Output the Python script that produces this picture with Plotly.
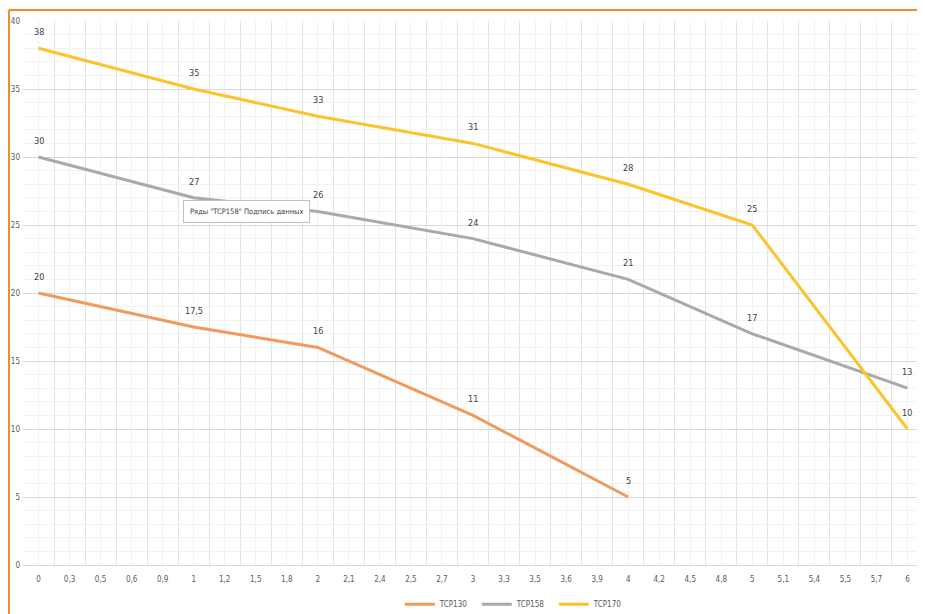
import plotly.graph_objects as go

x_labels = ["0", "0,3", "0,5", "0,6", "0,9", "1", "1,2", "1,5", "1,8", "2",
            "2,1", "2,4", "2,5", "2,7", "3", "3,3", "3,5", "3,6", "3,9", "4",
            "4,2", "4,5", "4,8", "5", "5,1", "5,4", "5,5", "5,7", "6"]

tcp130_x = ["0", "1", "2", "3", "4"]
tcp130_y = [20, 17.5, 16, 11, 5]
tcp130_text = ["20", "17,5", "16", "11", "5"]

tcp158_x = ["0", "1", "2", "3", "4", "5", "6"]
tcp158_y = [30, 27, 26, 24, 21, 17, 13]

tcp170_x = ["0", "1", "2", "3", "4", "5", "6"]
tcp170_y = [38, 35, 33, 31, 28, 25, 10]

series = [
    ("TCP130", tcp130_x, tcp130_y, tcp130_text, "#F09A5E"),
    ("TCP158", tcp158_x, tcp158_y, [str(v) for v in tcp158_y], "#A9A9A9"),
    ("TCP170", tcp170_x, tcp170_y, [str(v) for v in tcp170_y], "#FBC42C"),
]

FONT = "Liberation Sans Narrow, DejaVu Sans Condensed, Liberation Sans, sans-serif"

fig = go.Figure()
annotations = []
for name, xs, ys, texts, color in series:
    xi = [x_labels.index(s) for s in xs]
    fig.add_trace(go.Scatter(
        x=xi, y=ys, mode="lines", name=name,
        line=dict(color=color, width=3),
        hoverinfo="skip",
    ))
    for xv, yv, t in zip(xi, ys, texts):
        annotations.append(dict(
            x=xv, y=yv, text=t, showarrow=False, yshift=16,
            font=dict(family=FONT, size=9, color="#404040"),
        ))

annotations.append(dict(
    xref="paper", yref="paper", x=0.178, y=0.649, xanchor="left", yanchor="middle",
    text="Ряды \"TCP158\" Подпись данных", showarrow=False,
    font=dict(family=FONT, size=7.5, color="#404040"),
    bgcolor="white", bordercolor="#BFBFBF", borderwidth=1, borderpad=6,
))

# figure is placed 8px in from the page edges, so size/margins compensate
fig.update_layout(
    width=917, height=606,
    margin=dict(l=15, r=2, t=13, b=49, autoexpand=False),
    paper_bgcolor="white", plot_bgcolor="white",
    font=dict(family=FONT, size=9, color="#595959"),
    showlegend=True,
    legend=dict(orientation="h", x=0.547, y=-0.072, xanchor="center", yanchor="middle",
                font=dict(family=FONT, size=8, color="#595959"),
                itemwidth=30, entrywidth=32, entrywidthmode="pixels",
                tracegroupgap=0, bgcolor="rgba(0,0,0,0)"),
    annotations=annotations,
    xaxis=dict(
        range=[-0.5, 28.5], tickmode="array",
        tickvals=list(range(len(x_labels))), ticktext=x_labels,
        showgrid=True, gridcolor="#F2F2F2", gridwidth=1,
        minor=dict(tick0=0.5, dtick=1, showgrid=True, gridcolor="#E3E3E3", gridwidth=1),
        zeroline=False, showline=False, ticks="", ticklabelstandoff=8,
        tickfont=dict(family=FONT, size=8, color="#595959"),
        fixedrange=True, automargin=False,
    ),
    yaxis=dict(
        range=[0, 40], dtick=5, tick0=0,
        showgrid=True, gridcolor="#D9D9D9", gridwidth=1,
        minor=dict(dtick=1, showgrid=True, gridcolor="#F2F2F2", gridwidth=1),
        zeroline=True, zerolinecolor="#D9D9D9", zerolinewidth=1,
        showline=False, ticks="", ticklabelstandoff=2,
        tickfont=dict(family=FONT, size=8, color="#595959"),
        fixedrange=True, automargin=False,
    ),
    shapes=[
        dict(type="line", xref="paper", yref="paper",
             x0=-0.0156, x1=1.01, y0=1.0202, y1=1.0202,
             line=dict(color="#F28C28", width=2)),
        dict(type="line", xref="paper", yref="paper",
             x0=-0.0156, x1=-0.0156, y0=1.0202, y1=-0.1,
             line=dict(color="#F28C28", width=2)),
    ],
)

fig.write_html("out.html")
